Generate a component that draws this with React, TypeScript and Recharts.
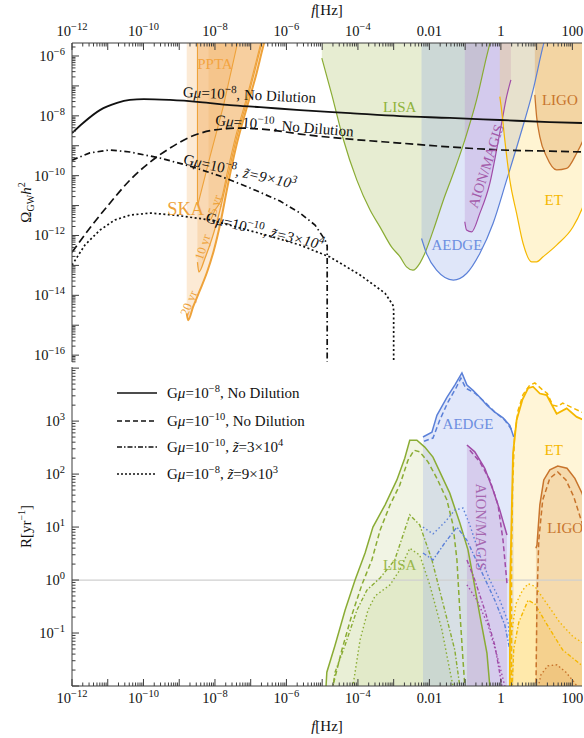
import React from 'react';
import { ComposedChart, XAxis, YAxis, Line, Area, Scatter, ReferenceLine } from 'recharts';

type P = [number, number];

const FONT = '"Liberation Serif", "Times New Roman", serif';
const INK = '#111111';
const FRAME = '#3c3c3c';

// ================= axes =================
const X_DOMAIN: [number, number] = [1e-12, 186];
const OMEGA_DOMAIN: [number, number] = [5.9e-17, 2.72e-6];
const RATE_DOMAIN: [number, number] = [0.01, 1.05e4];
const X_DECADES = [1e-12, 1e-11, 1e-10, 1e-9, 1e-8, 1e-7, 1e-6, 1e-5, 1e-4, 1e-3, 1e-2, 1e-1, 1, 10, 100];
const OMEGA_DECADES = [1e-17, 1e-16, 1e-15, 1e-14, 1e-13, 1e-12, 1e-11, 1e-10, 1e-9, 1e-8, 1e-7, 1e-6];
const RATE_DECADES = [1e-2, 1e-1, 1, 10, 100, 1e3, 1e4];
const MINOR_STEPS = [2, 3, 4, 5, 6, 7, 8, 9];
type TickLabel = [number, string, string];
const X_TICK_LABELS: TickLabel[] = [
  [1e-12, '10', '−12'], [1e-10, '10', '−10'], [1e-8, '10', '−8'], [1e-6, '10', '−6'],
  [1e-4, '10', '−4'], [1e-2, '0.01', ''], [1, '1', ''], [100, '100', ''],
];
const OMEGA_TICK_LABELS: TickLabel[] = [
  [1e-6, '10', '−6'], [1e-8, '10', '−8'], [1e-10, '10', '−10'],
  [1e-12, '10', '−12'], [1e-14, '10', '−14'], [1e-16, '10', '−16'],
];
const RATE_TICK_LABELS: TickLabel[] = [
  [1e3, '10', '3'], [100, '10', '2'], [10, '10', '1'], [1, '10', '0'], [0.1, '10', '−1'],
];

// ================= top panel: Omega_GW h^2 (log10 f, log10 Omega) =================
const GMU8_ND: P[] = [[-12, -8.58], [-11.69, -8.24], [-11.22, -7.81], [-10.74, -7.57], [-10.38, -7.47], [-9.99, -7.44], [-9.26, -7.47], [-8.42, -7.54], [-7.58, -7.64], [-6.74, -7.71], [-5.62, -7.81], [-4.22, -7.91], [-2.83, -8.01], [-1.43, -8.07], [-0.03, -8.14], [1.37, -8.21], [2.3, -8.24]];
const GMU10_ND: P[] = [[-12, -12.56], [-11.5, -11.75], [-10.94, -10.92], [-10.38, -10.15], [-9.82, -9.55], [-9.26, -9.08], [-8.7, -8.71], [-8.0, -8.47], [-7.3, -8.41], [-6.46, -8.47], [-5.62, -8.61], [-4.22, -8.78], [-2.83, -8.91], [-1.43, -9.04], [-0.03, -9.14], [1.37, -9.18], [2.3, -9.21]];
const GMU8_Z9E3: P[] = [[-12, -9.48], [-11.5, -9.24], [-10.94, -9.14], [-10.38, -9.21], [-9.54, -9.41], [-8.7, -9.68], [-7.86, -10.01], [-7.02, -10.41], [-6.18, -10.85], [-5.62, -11.25], [-5.2, -11.65], [-4.92, -12.15], [-4.86, -12.35], [-4.86, -17]];
const GMU10_Z3E4: P[] = [[-12, -12.99], [-11.64, -12.32], [-11.22, -11.82], [-10.8, -11.48], [-10.38, -11.32], [-9.82, -11.25], [-9.12, -11.32], [-8.14, -11.48], [-7.3, -11.75], [-6.46, -12.02], [-5.62, -12.32], [-4.78, -12.72], [-3.94, -13.32], [-3.24, -13.93], [-3.02, -14.33], [-3.0, -14.5], [-3.0, -17]];

const LISA_PLS: P[] = [[-5.01, -6.07], [-4.73, -7.3], [-4.42, -8.74], [-4.03, -10.15], [-3.66, -11.15], [-3.38, -11.72], [-3.05, -12.4], [-2.83, -12.7], [-2.64, -13.05], [-2.46, -13.16], [-2.27, -12.93], [-2.13, -12.6], [-1.89, -11.82], [-1.61, -10.82], [-1.33, -9.92], [-1.01, -8.81], [-0.68, -7.47], [-0.4, -6.02], [-0.25, -5.3]];
const AEDGE_PLS: P[] = [[-2.22, -12.1], [-2.08, -12.6], [-1.8, -13.16], [-1.33, -13.49], [-0.96, -13.27], [-0.59, -12.6], [-0.22, -11.6], [0.16, -10.15], [0.53, -8.7], [0.9, -7.14], [1.2, -5.58], [1.31, -5.13]];
const AION_PLS: P[] = [[-1.01, -11.54], [-0.96, -11.82], [-0.82, -11.88], [-0.59, -11.26], [-0.31, -10.26], [-0.12, -9.14], [0.02, -8.25], [0.16, -7.36], [0.28, -6.8]];
const ET_PLS: P[] = [[-0.03, -7.36], [0.02, -7.81], [0.11, -8.81], [0.25, -10.15], [0.44, -11.26], [0.62, -12.26], [0.86, -12.88], [1.0, -12.88], [1.18, -12.71], [1.56, -12.32], [2.02, -11.71], [2.29, -11.05], [2.5, -10.3]];
const LIGO_PLS: P[] = [[0.95, -7.3], [1.0, -8.03], [1.09, -8.7], [1.28, -9.37], [1.56, -9.81], [1.84, -9.76], [2.12, -9.25], [2.3, -8.81], [2.5, -8.1]];
const SKA_20YR: P[] = [[-8.79, -14.6], [-8.75, -14.83], [-8.61, -14.38], [-8.42, -13.83], [-8.22, -13.22], [-8.03, -12.49], [-7.83, -11.48], [-7.64, -10.31], [-7.41, -9.04], [-7.13, -7.81], [-6.85, -6.64], [-6.6, -5.46], [-6.5, -5.1]];
const SKA_10YR: P[] = [[-8.49, -12.89], [-8.45, -13.22], [-8.28, -12.76], [-8.08, -12.09], [-7.86, -11.15], [-7.64, -10.01], [-7.41, -8.81], [-7.13, -7.61], [-6.88, -6.47], [-6.66, -5.46], [-6.56, -5.1]];
const SKA_5YR: P[] = [[-8.18, -11.28], [-8.14, -11.48], [-8.0, -11.15], [-7.83, -10.82], [-7.64, -9.81], [-7.41, -8.64], [-7.13, -7.47], [-6.88, -6.33], [-6.69, -5.46], [-6.6, -5.1]];
const PPTA: P[] = [[-8.49, -10.85], [-8.47, -10.93], [-8.14, -9.37], [-7.77, -7.7], [-7.35, -5.46], [-7.3, -5.2]];
const PPTA_EDGE: P[] = [[-8.49, -5.0], [-8.49, -10.85]];

// ================= bottom panel: event rate R (log10 f, log10 R) =================
const LISA_R_S: P[] = [[-4.9, -2.1], [-4.87, -1.74], [-4.64, -1.23], [-4.36, -0.57], [-4.08, 0.0], [-3.8, 0.51], [-3.58, 1.0], [-3.24, 1.42], [-2.91, 1.89], [-2.69, 2.3], [-2.55, 2.64], [-2.35, 2.64], [-2.13, 2.51], [-1.9, 2.32], [-1.43, 1.64], [-1.15, 1.08], [-0.92, 0.57], [-0.78, 0.06], [-0.59, -0.66], [-0.39, -1.38], [-0.31, -2.0], [-0.3, -2.1]];
const LISA_R_D: P[] = [[-4.72, -2.1], [-4.7, -2.0], [-4.45, -1.32], [-4.17, -0.66], [-3.89, -0.09], [-3.61, 0.38], [-3.38, 0.94], [-3.1, 1.42], [-2.83, 1.79], [-2.6, 2.26], [-2.43, 2.45], [-2.27, 2.42], [-2.04, 2.23], [-1.79, 1.92], [-1.51, 1.51], [-1.34, 1.04], [-1.23, 0.38], [-1.15, -0.57], [-1.06, -1.51], [-1.01, -2.0], [-1.0, -2.1]];
const LISA_R_DD: P[] = [[-4.72, -2.1], [-4.64, -1.74], [-4.36, -1.23], [-4.03, -0.57], [-3.75, -0.19], [-3.38, 0.04], [-2.97, 0.38], [-2.55, 1.23], [-2.27, 1.04], [-1.93, 0.38], [-1.57, -0.57], [-1.29, -1.32], [-1.15, -2.0], [-1.13, -2.1]];
const LISA_R_DOT: P[] = [[-4.16, -2.1], [-4.14, -2.0], [-3.94, -1.13], [-3.72, -0.57], [-3.52, -0.3], [-3.1, -0.09], [-2.83, 0.19], [-2.55, 0.6], [-2.27, 0.47], [-1.99, -0.09], [-1.65, -0.94], [-1.43, -1.7], [-1.34, -2.0], [-1.32, -2.1]];
const AEDGE_R_S: P[] = [[-2.18, 2.7], [-1.93, 2.79], [-1.79, 3.11], [-1.51, 3.45], [-1.29, 3.68], [-1.09, 3.91], [-0.95, 3.68], [-0.78, 3.58], [-0.59, 3.45], [-0.39, 3.3], [-0.17, 3.17], [0.06, 3.06], [0.25, 2.92], [0.36, 2.7]];
const AEDGE_R_D: P[] = [[-2.15, 2.62], [-1.9, 2.68], [-1.71, 3.02], [-1.48, 3.36], [-1.26, 3.62], [-1.12, 3.81], [-0.98, 3.62], [-0.73, 3.53], [-0.45, 3.36], [-0.17, 3.17], [0.11, 3.02], [0.31, 2.83]];
const AEDGE_R_DD: P[] = [[-2.18, 0.51], [-1.9, 0.38], [-1.57, 0.7], [-1.23, 1.0], [-0.95, 0.75], [-0.59, 0.23], [-0.17, -0.38], [0.11, -0.85], [0.25, -1.32]];
const AEDGE_R_DOT: P[] = [[-2.18, 1.0], [-1.9, 0.87], [-1.57, 1.09], [-1.29, 1.32], [-1.06, 1.36], [-0.87, 1.04], [-0.59, 0.47], [-0.31, 0.0], [-0.03, -0.38], [0.2, -0.79], [0.25, -1.13]];
const AION_R_S: P[] = [[-0.95, 2.55], [-0.73, 2.42], [-0.45, 2.11], [-0.22, 1.7], [-0.03, 1.32], [0.17, 0.85]];
const AION_R_D: P[] = [[-0.87, 2.45], [-0.59, 2.23], [-0.31, 1.89], [-0.08, 1.42], [0.06, 0.75], [0.17, -0.06]];
const AION_R_DD: P[] = [[-0.95, 0.38], [-0.73, 0.0], [-0.45, -0.57], [-0.17, -1.23], [0.03, -2.0], [0.04, -2.1]];
const AION_R_DOT: P[] = [[-0.95, -0.09], [-0.67, -0.38], [-0.36, -0.85], [-0.11, -1.42], [0.11, -2.0], [0.12, -2.1]];
const ET_R_S: P[] = [[0.25, -2.1], [0.26, 0.0], [0.3, 1.2], [0.34, 2.39], [0.44, 3.02], [0.6, 3.4], [0.76, 3.62], [0.9, 3.65], [1.09, 3.52], [1.28, 3.49], [1.56, 3.14], [1.84, 3.24], [2.12, 3.08], [2.32, 3.02]];
const ET_R_D: P[] = [[0.3, -2.1], [0.3, 0.5], [0.33, 1.8], [0.38, 2.7], [0.48, 3.2], [0.62, 3.5], [0.81, 3.68], [0.95, 3.72], [1.15, 3.6], [1.3, 3.52], [1.45, 3.3], [1.6, 3.28], [1.73, 3.34], [2.01, 3.25], [2.32, 3.15]];
const ET_R_DD: P[] = [[0.31, -2.1], [0.36, -1.3], [0.5, -0.8], [0.76, -0.38], [0.95, -0.45], [1.3, -0.85], [1.73, -1.32], [2.32, -1.64]];
const ET_R_DOT: P[] = [[0.27, -2.1], [0.3, -1.0], [0.42, -0.45], [0.6, -0.2], [0.76, -0.07], [0.95, -0.12], [1.28, -0.44], [1.65, -0.8], [2.02, -1.07], [2.32, -1.2]];
const LIGO_R_S: P[] = [[0.98, 0.6], [1.01, 0.66], [1.09, 1.42], [1.2, 1.89], [1.37, 2.08], [1.59, 2.15], [1.85, 2.11], [2.07, 1.92], [2.27, 1.64], [2.43, 1.32]];
const LIGO_R_D: P[] = [[0.98, -2.1], [1.01, -0.38], [1.06, 0.75], [1.17, 1.51], [1.37, 1.92], [1.59, 2.04], [1.82, 1.89], [2.04, 1.57], [2.27, 1.08], [2.43, 0.66]];
const LIGO_R_DOT: P[] = [[1.03, -2.1], [1.05, -2.0], [1.12, -1.79], [1.31, -1.62], [1.57, -1.6], [1.82, -1.74], [2.04, -1.92], [2.13, -2.0], [2.15, -2.1]];

// ================= labels =================
type RegionLabel = { at: P; text: string; color: string; size: number; rot: number };
const TOP_REGION_LABELS: RegionLabel[] = [
  { at: [-8.0, -6.27], text: 'PPTA', color: '#f3a440', size: 15, rot: 0 },
  { at: [-8.82, -11.1], text: 'SKA', color: '#eea23a', size: 18.5, rot: 0 },
  { at: [-8.73, -14.26], text: '20 yr', color: '#eea23a', size: 12.5, rot: -68 },
  { at: [-8.34, -12.39], text: '10 yr', color: '#eea23a', size: 12.5, rot: -72 },
  { at: [-8.0, -10.98], text: '5 yr', color: '#eea23a', size: 12.5, rot: -72 },
  { at: [-2.83, -7.71], text: 'LISA', color: '#8fb33a', size: 15, rot: 0 },
  { at: [-1.23, -12.32], text: 'AEDGE', color: '#6d8fe0', size: 15, rot: 0 },
  { at: [-0.42, -9.68], text: 'AION/MAGIS', color: '#a35aa9', size: 14.5, rot: -72 },
  { at: [1.65, -7.47], text: 'LIGO', color: '#c8742c', size: 15, rot: 0 },
  { at: [1.48, -10.82], text: 'ET', color: '#f5b800', size: 15, rot: 0 },
];
const BOTTOM_REGION_LABELS: RegionLabel[] = [
  { at: [-2.83, 0.28], text: 'LISA', color: '#9ab84a', size: 15, rot: 0 },
  { at: [-0.92, 2.94], text: 'AEDGE', color: '#6d8fe0', size: 15, rot: 0 },
  { at: [-0.56, 1.0], text: 'AION/MAGIS', color: '#a668b0', size: 14.5, rot: 90 },
  { at: [1.48, 2.45], text: 'ET', color: '#f5b800', size: 15, rot: 0 },
  { at: [1.8, 0.98], text: 'LIGO', color: '#c8742c', size: 15, rot: 0 },
];
type CurveLabel = { at: P; exp: string; z: [string, string] | null; rot: number };
const CURVE_LABELS: CurveLabel[] = [
  { at: [-8.9, -7.37], exp: '−8', z: null, rot: 2.5 },
  { at: [-8.0, -8.31], exp: '−10', z: null, rot: 4.8 },
  { at: [-8.9, -9.6], exp: '−8', z: ['9', '3'], rot: 12.8 },
  { at: [-8.28, -11.55], exp: '−10', z: ['3', '4'], rot: 13.3 },
];
const LEGEND_ITEMS: { exp: string; z: [string, string] | null; dash?: string }[] = [
  { exp: '−8', z: null },
  { exp: '−10', z: null, dash: '5 3' },
  { exp: '−10', z: ['3', '4'], dash: '5 2 1.5 2' },
  { exp: '−8', z: ['9', '3'], dash: '2 2' },
];

// ================= colours =================
const C = {
  lisa: '#8aac34', lisaFill: '#9fb84c',
  aedge: '#5b80d8', aedgeFill: '#7b98e6',
  aion: '#a04ca8', aionFill: '#b98ad2',
  et: '#f5b800', etFill: '#ffd24a',
  ligo: '#c8742c', ligoFill: '#dd9a4c',
  ska: '#eea23a', skaFill: '#f0a040',
};

// ================= helpers =================
const pts = (a: P[]) => a.map(([lx, ly]) => ({ x: Math.pow(10, lx), y: Math.pow(10, ly) }));
const upRange = (a: P[]) => a.map(([lx, ly]) => ({ x: Math.pow(10, lx), r: [Math.pow(10, ly), 1e-4] }));
const downRange = (a: P[]) => a.map(([lx, ly]) => ({ x: Math.pow(10, lx), r: [1e-4, Math.pow(10, ly)] }));
const labelPts = <T extends { at: P }>(a: T[]) => a.map((l) => ({ ...l, x: Math.pow(10, l.at[0]), y: Math.pow(10, l.at[1]) }));

const allTicks = (decades: number[], dom: [number, number]) =>
  decades.flatMap((d) => [d, ...MINOR_STEPS.map((k) => k * d)]).filter((v) => v >= dom[0] && v <= dom[1]);

type Orient = 'top' | 'bottom' | 'left' | 'right';
const makeTick = (orient: Orient, decades: number[], labels: TickLabel[] | null) => {
  const majors = new Set(decades);
  const map = new Map<number, TickLabel>();
  (labels || []).forEach((l) => map.set(l[0], l));
  return (props: any) => {
    const { x, y, payload } = props;
    const v = payload ? payload.value : undefined;
    const len = majors.has(v) ? 7 : 3.5;
    let l = { x1: x, x2: x, y1: y, y2: y };
    if (orient === 'top') l = { x1: x, x2: x, y1: y, y2: y + len };
    if (orient === 'bottom') l = { x1: x, x2: x, y1: y, y2: y - len };
    if (orient === 'left') l = { x1: x, x2: x + len, y1: y, y2: y };
    if (orient === 'right') l = { x1: x, x2: x - len, y1: y, y2: y };
    const lab = map.get(v);
    let text: React.ReactNode = null;
    if (lab) {
      let tx = x, ty = y;
      let anchor: 'middle' | 'end' = 'middle';
      if (orient === 'top') ty = y - 7;
      if (orient === 'bottom') ty = y + 17;
      if (orient === 'left') { tx = x - 7; ty = y + 5; anchor = 'end'; }
      text = (
        <text x={tx} y={ty} textAnchor={anchor} fontFamily={FONT} fontSize={14.5} fill={INK}>
          {lab[1]}
          {lab[2] ? <tspan dy={-6} fontSize={10.5}>{lab[2]}</tspan> : null}
        </text>
      );
    }
    return (
      <g>
        <line {...l} stroke={FRAME} strokeWidth={1} />
        {text}
      </g>
    );
  };
};

const regionLabelShape = (p: any) => {
  const d = p.payload;
  const cx = p.cx, cy = p.cy;
  return (
    <text x={cx} y={cy} textAnchor="middle" dominantBaseline="central"
      transform={d.rot ? `rotate(${d.rot} ${cx} ${cy})` : undefined}
      fill={d.color} fontSize={d.size} fontFamily={FONT}>{d.text}</text>
  );
};

const curveLabelShape = (p: any) => {
  const d = p.payload;
  const cx = p.cx, cy = p.cy;
  return (
    <text x={cx} y={cy} transform={`rotate(${d.rot} ${cx} ${cy})`} fontFamily={FONT} fontSize={15} fill={INK}>
      G<tspan fontStyle="italic">μ</tspan>=10<tspan dy={-6} fontSize={11}>{d.exp}</tspan>
      <tspan dy={6}>, </tspan>
      {d.z ? (
        <>
          <tspan fontStyle="italic">{'z\u0303'}={d.z[0]}×10</tspan>
          <tspan dy={-6} fontSize={11} fontStyle="italic">{d.z[1]}</tspan>
        </>
      ) : (
        <tspan>No Dilution</tspan>
      )}
    </text>
  );
};

const line = (key: string, data: P[], stroke: string, width: number, dash?: string, type: any = 'linear') => (
  <Line key={key} data={pts(data)} dataKey="y" xAxisId="x" yAxisId="y" type={type} stroke={stroke}
    strokeWidth={width} strokeDasharray={dash} dot={false} activeDot={false} isAnimationActive={false} legendType="none" />
);
const areaUp = (key: string, data: P[], fill: string, opacity: number, type: any = 'monotone') => (
  <Area key={key} data={upRange(data)} dataKey="r" xAxisId="x" yAxisId="y" type={type} fill={fill} fillOpacity={opacity}
    stroke="none" dot={false} activeDot={false} isAnimationActive={false} legendType="none" />
);
const areaDown = (key: string, data: P[], fill: string, opacity: number, type: any = 'linear') => (
  <Area key={key} data={downRange(data)} dataKey="r" xAxisId="x" yAxisId="y" type={type} fill={fill} fillOpacity={opacity}
    stroke="none" dot={false} activeDot={false} isAnimationActive={false} legendType="none" />
);

const fTitle = (dyFromTop: number) => (props: any) => {
  const vb = props.viewBox || {};
  return (
    <text x={vb.x + vb.width / 2} y={vb.y + dyFromTop} textAnchor="middle" fontFamily={FONT} fontSize={15} fill={INK}>
      <tspan fontStyle="italic">f</tspan>[Hz]
    </text>
  );
};
const omegaTitle = (props: any) => {
  const vb = props.viewBox || {};
  const x = 31, cy = vb.y + vb.height / 2;
  return (
    <text x={x} y={cy} transform={`rotate(-90 ${x} ${cy})`} textAnchor="middle" fontFamily={FONT} fontSize={15} fill={INK}>
      Ω<tspan dy={3} fontSize={10}>GW</tspan><tspan dy={-3} fontStyle="italic">h</tspan><tspan dy={-6} fontSize={10}>2</tspan>
    </text>
  );
};
const rateTitle = (props: any) => {
  const vb = props.viewBox || {};
  const x = 31, cy = vb.y + vb.height / 2;
  return (
    <text x={x} y={cy} transform={`rotate(-90 ${x} ${cy})`} textAnchor="middle" fontFamily={FONT} fontSize={15} fill={INK}>
      R[yr<tspan dy={-6} fontSize={10}>−1</tspan><tspan dy={6}>]</tspan>
    </text>
  );
};

const X_TICKS = allTicks(X_DECADES, X_DOMAIN);
const OMEGA_TICKS = allTicks(OMEGA_DECADES, OMEGA_DOMAIN);
const RATE_TICKS = allTicks(RATE_DECADES, RATE_DOMAIN);

const axisCommon = { type: 'number' as const, scale: 'log' as const, allowDataOverflow: true, interval: 0 as const, tickSize: 0, tickMargin: 0, tickLine: false, axisLine: { stroke: FRAME, strokeWidth: 1 } };

const LegendRow = ({ item }: { item: (typeof LEGEND_ITEMS)[number] }) => (
  <div style={{ display: 'flex', alignItems: 'center', height: 20, whiteSpace: 'nowrap' }}>
    <svg width={40} height={4} style={{ display: 'block' }}>
      <line x1={0} x2={40} y1={2} y2={2} stroke={INK} strokeWidth={1.6} strokeDasharray={item.dash} />
    </svg>
    <span style={{ marginLeft: 10 }}>
      G<i>μ</i>=10<span style={{ fontSize: 10.5, position: 'relative', top: -6 }}>{item.exp}</span>,{' '}
      {item.z ? (
        <>
          <i>{'z\u0303'}</i>={item.z[0]}×10<span style={{ fontSize: 10.5, position: 'relative', top: -6 }}>{item.z[1]}</span>
        </>
      ) : 'No Dilution'}
    </span>
  </div>
);
const LEGEND_ROW_TOPS = [383, 411, 437, 464];

export default function App() {
  return (
    <div style={{ position: 'absolute', left: 0, top: 0, width: 584, height: 738, background: '#fff', overflow: 'hidden' }}>
      {/* ---------- top panel ---------- */}
      <div style={{ position: 'absolute', left: 0, top: 0 }}>
        <ComposedChart width={584} height={365} margin={{ top: 0, right: 2, bottom: 3, left: 0 }}>
          <XAxis xAxisId="x" orientation="top" dataKey="x" domain={X_DOMAIN} ticks={X_TICKS} height={43}
            tick={makeTick('top', X_DECADES, X_TICK_LABELS)} label={fTitle(15)} {...axisCommon} />
          <XAxis xAxisId="x2" orientation="bottom" dataKey="x" domain={X_DOMAIN} ticks={X_TICKS} height={0}
            tick={makeTick('bottom', X_DECADES, null)} {...axisCommon} />
          <YAxis yAxisId="y" orientation="left" dataKey="y" domain={OMEGA_DOMAIN} ticks={OMEGA_TICKS} width={72}
            tick={makeTick('left', OMEGA_DECADES, OMEGA_TICK_LABELS)} label={omegaTitle} {...axisCommon} />
          <YAxis yAxisId="y2" orientation="right" dataKey="y" domain={OMEGA_DOMAIN} ticks={OMEGA_TICKS} width={0}
            tick={makeTick('right', OMEGA_DECADES, null)} {...axisCommon} />

          {areaUp('ska20', SKA_20YR, C.skaFill, 0.22)}
          {areaUp('ska10', SKA_10YR, C.skaFill, 0.22)}
          {areaUp('ska5', SKA_5YR, C.skaFill, 0.18)}
          {areaUp('ppta', PPTA, C.skaFill, 0.2, 'linear')}
          {areaUp('lisa', LISA_PLS, C.lisaFill, 0.25)}
          {areaUp('aedge', AEDGE_PLS, C.aedgeFill, 0.24)}
          {areaUp('aion', AION_PLS, C.aionFill, 0.3)}
          {areaUp('et', ET_PLS, C.etFill, 0.25)}
          {areaUp('ligo', LIGO_PLS, C.ligoFill, 0.35)}

          {line('ska20l', SKA_20YR, C.ska, 2, undefined, 'monotone')}
          {line('ska10l', SKA_10YR, C.ska, 1.3, undefined, 'monotone')}
          {line('ska5l', SKA_5YR, C.ska, 1.1, undefined, 'monotone')}
          {line('pptal', PPTA, C.ska, 1.1)}
          {line('pptae', PPTA_EDGE, C.ska, 1.1)}
          {line('lisal', LISA_PLS, C.lisa, 1.2, undefined, 'monotone')}
          {line('aedgel', AEDGE_PLS, C.aedge, 1.2, undefined, 'monotone')}
          {line('aionl', AION_PLS, C.aion, 1.2, undefined, 'monotone')}
          {line('etl', ET_PLS, C.et, 1.2, undefined, 'monotone')}
          {line('ligol', LIGO_PLS, C.ligo, 1.3, undefined, 'monotone')}

          {line('g8nd', GMU8_ND, INK, 1.8, undefined, 'monotone')}
          {line('g10nd', GMU10_ND, INK, 1.7, '8 4', 'monotone')}
          {line('g8z', GMU8_Z9E3, INK, 1.7, '6 3 1.5 3')}
          {line('g10z', GMU10_Z3E4, INK, 1.7, '2 2.5')}

          <Scatter data={labelPts(TOP_REGION_LABELS)} xAxisId="x" yAxisId="y" shape={regionLabelShape} isAnimationActive={false} legendType="none" />
          <Scatter data={labelPts(CURVE_LABELS)} xAxisId="x" yAxisId="y" shape={curveLabelShape} isAnimationActive={false} legendType="none" />
        </ComposedChart>
      </div>

      {/* ---------- bottom panel ---------- */}
      <div style={{ position: 'absolute', left: 0, top: 364 }}>
        <ComposedChart width={584} height={374} margin={{ top: 3, right: 2, bottom: 0, left: 0 }}>
          <XAxis xAxisId="x" orientation="bottom" dataKey="x" domain={X_DOMAIN} ticks={X_TICKS} height={52}
            tick={makeTick('bottom', X_DECADES, X_TICK_LABELS)} label={fTitle(45)} {...axisCommon} />
          <XAxis xAxisId="x2" orientation="top" dataKey="x" domain={X_DOMAIN} ticks={X_TICKS} height={0}
            tick={makeTick('top', X_DECADES, null)} {...axisCommon} />
          <YAxis yAxisId="y" orientation="left" dataKey="y" domain={RATE_DOMAIN} ticks={RATE_TICKS} width={72}
            tick={makeTick('left', RATE_DECADES, RATE_TICK_LABELS)} label={rateTitle} {...axisCommon} />
          <YAxis yAxisId="y2" orientation="right" dataKey="y" domain={RATE_DOMAIN} ticks={RATE_TICKS} width={0}
            tick={makeTick('right', RATE_DECADES, null)} {...axisCommon} />

          {areaDown('lisaS', LISA_R_S, C.lisaFill, 0.15)}
          {areaDown('lisaDD', LISA_R_DD, C.lisaFill, 0.09)}
          {areaDown('lisaDot', LISA_R_DOT, C.lisaFill, 0.09)}
          {areaDown('aedgeS', AEDGE_R_S, C.aedgeFill, 0.22)}
          {areaDown('aionS', AION_R_S, C.aionFill, 0.3)}
          {areaDown('etS', ET_R_S, C.etFill, 0.22)}
          {areaDown('etDD', ET_R_DD, C.etFill, 0.18)}
          {areaDown('etDot', ET_R_DOT, C.etFill, 0.15)}
          {areaDown('ligoS', LIGO_R_S, C.ligoFill, 0.3)}
          {areaDown('ligoDot', LIGO_R_DOT, C.ligoFill, 0.2)}

          <ReferenceLine y={1} xAxisId="x" yAxisId="y" stroke="#cfcfcf" strokeWidth={1.2} />

          {line('lS', LISA_R_S, C.lisa, 1.5)}
          {line('lD', LISA_R_D, C.lisa, 1.5, '5 3')}
          {line('lDD', LISA_R_DD, C.lisa, 1.4, '4 2 1.5 2')}
          {line('lDot', LISA_R_DOT, C.lisa, 1.4, '1.5 2.5')}
          {line('aS', AEDGE_R_S, C.aedge, 1.5)}
          {line('aD', AEDGE_R_D, C.aedge, 1.5, '5 3')}
          {line('aDD', AEDGE_R_DD, C.aedge, 1.4, '4 2 1.5 2')}
          {line('aDot', AEDGE_R_DOT, C.aedge, 1.4, '1.5 2.5')}
          {line('iS', AION_R_S, C.aion, 1.5)}
          {line('iD', AION_R_D, C.aion, 1.5, '5 3')}
          {line('iDD', AION_R_DD, C.aion, 1.4, '4 2 1.5 2')}
          {line('iDot', AION_R_DOT, C.aion, 1.4, '1.5 2.5')}
          {line('eS', ET_R_S, C.et, 1.8)}
          {line('eD', ET_R_D, C.et, 1.5, '5 3')}
          {line('eDD', ET_R_DD, C.et, 1.4, '4 2 1.5 2')}
          {line('eDot', ET_R_DOT, C.et, 1.4, '1.5 2.5')}
          {line('gS', LIGO_R_S, C.ligo, 1.5)}
          {line('gD', LIGO_R_D, C.ligo, 1.5, '5 3')}
          {line('gDot', LIGO_R_DOT, C.ligo, 1.4, '1.5 2.5')}

          <Scatter data={labelPts(BOTTOM_REGION_LABELS)} xAxisId="x" yAxisId="y" shape={regionLabelShape} isAnimationActive={false} legendType="none" />
        </ComposedChart>
      </div>

      {/* ---------- legend ---------- */}
      {LEGEND_ITEMS.map((it, i) => (
        <div key={i} style={{ position: 'absolute', left: 117, top: LEGEND_ROW_TOPS[i], fontFamily: FONT, fontSize: 15, color: INK }}>
          <LegendRow item={it} />
        </div>
      ))}
    </div>
  );
}
